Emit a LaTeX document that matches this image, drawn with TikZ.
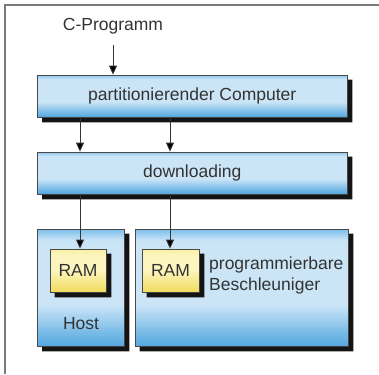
\documentclass[tikz,border=0pt]{standalone}
\usepackage{fontspec}
\setmainfont{Liberation Sans}
\usetikzlibrary{arrows.meta,calc}
\definecolor{framegray}{HTML}{7A7A7A}
\definecolor{edgegray}{HTML}{4A4A4A}
\definecolor{txt}{HTML}{333333}
\definecolor{shadowcol}{HTML}{141414}
\definecolor{blueBot}{HTML}{55A8E0}
\definecolor{blueMid}{HTML}{CBE5F7}
\definecolor{blueTop}{HTML}{78BCEA}
\definecolor{yelBot}{HTML}{F0DC60}
\definecolor{yelMid}{HTML}{FCF5BE}
\definecolor{yelTop}{HTML}{F8EEA0}
\tikzset{
  % vertical gradient built from thin strips:
  % #1 bottom, #2 middle, #3 top colour; #4 where the middle colour is reached, #5 where it starts to turn into the top colour
  gradfill/.style n args={5}{path picture={%
    \coordinate (ppsw) at (path picture bounding box.south west);
    \coordinate (ppne) at (path picture bounding box.north east);
    \coordinate (ppnw) at (ppsw |- ppne);
    \coordinate (ppse) at (ppsw -| ppne);
    \foreach \k in {0,...,59}{%
      \pgfmathsetmacro\f{(\k+0.5)/60}%
      \pgfmathtruncatemacro\pa{min(100,100*\f/#4)}%
      \pgfmathtruncatemacro\pb{max(0,100*(\f-#5)/(1-#5))}%
      \colorlet{stripa}{#2!\pa!#1}%
      \colorlet{stripb}{#3!\pb!stripa}%
      \fill[stripb] ($(ppsw)!{\k/60}!(ppnw)$) rectangle ($(ppse)!{(\k+1.3)/60}!(ppne)$);
    }}},
  lbl/.style={text=txt, font=\fontsize{17.5}{21}\selectfont, inner sep=0pt},
  panel/.style={draw=edgegray, line width=0.8pt, inner sep=0pt,
    gradfill={blueBot}{blueMid}{blueTop}{0.35}{0.9},
    text=txt, font=\fontsize{17.5}{21}\selectfont},
  ram/.style={draw=edgegray, line width=0.8pt, inner sep=0pt,
    gradfill={yelBot}{yelMid}{yelTop}{0.5}{0.85},
    text=txt, font=\fontsize{17.5}{21}\selectfont},
  flow/.style={draw=txt, line width=0.9pt,
    -{Triangle[length=9pt,width=8pt,fill=black]}},
  shadowfill/.style={fill=shadowcol},
}
% visible L-shaped part of the offset shadow along the right and lower edge of a box
\newcommand\boxshadowof[1]{%
  \fill[shadowfill]
    ($(#1.north east)+(0.4pt,-5pt)$) -- ($(#1.north east)+(5pt,-5pt)$)
    -- ($(#1.south east)+(5pt,-5pt)$) -- ($(#1.south west)+(5pt,-5pt)$)
    -- ($(#1.south west)+(5pt,-0.4pt)$) -- ($(#1.south east)+(0.4pt,-0.4pt)$)
    -- cycle;}
\begin{document}
\begin{tikzpicture}[x=1pt,y=1pt]
\useasboundingbox (0,0) rectangle (379,-374);
% frame lines along top and left
\draw[framegray, line width=1.5pt] (379,-5) -- (5,-5) -- (5,-374);

% blocks, each followed by its shadow
\node[panel, minimum width=309.5pt, minimum height=42pt] (part) at (192.25,-96) {partitionierender Computer};
\boxshadowof{part}
\node[panel, minimum width=309.5pt, minimum height=42pt] (down) at (192.25,-173) {downloading};
\boxshadowof{down}
\node[panel, minimum width=86.5pt, minimum height=117pt] (host) at (80.75,-287.5) {};
\boxshadowof{host}
\node[panel, minimum width=213pt, minimum height=117pt] (acc) at (241.5,-287.5) {};
\boxshadowof{acc}
\node[ram, minimum width=56pt, minimum height=43pt] (ram1) at (78,-270.5) {RAM};
\boxshadowof{ram1}
\node[ram, minimum width=57pt, minimum height=43pt] (ram2) at (170.5,-270.5) {RAM};
\boxshadowof{ram2}

% labels
\node[lbl] (src) at (113,-26) {C-Programm};
\node[lbl] (hostlbl) at (81,-324) {Host};
\node[lbl, anchor=west, align=left] (acclbl) at (209,-275.5) {programmierbare\\Beschleuniger};

% end points of the connectors on the block edges
\coordinate (srcA) at (113,-45);
\coordinate (pt) at (src.south |- part.north);
\coordinate (p1) at (80,0 |- part.south);
\coordinate (p2) at (170,0 |- part.south);
\coordinate (d1) at (80,0 |- down.north);
\coordinate (d2) at (170,0 |- down.north);
\coordinate (e1) at (80,0 |- down.south);
\coordinate (e2) at (170,0 |- down.south);
\coordinate (r1) at (80,0 |- ram1.north);
\coordinate (r2) at (170,0 |- ram2.north);

% connectors
\draw[flow] (srcA) -- (pt);
\draw[flow] (p1) -- (d1);
\draw[flow] (p2) -- (d2);
\draw[flow] (e1) -- (r1);
\draw[flow] (e2) -- (r2);
\end{tikzpicture}
\end{document}
